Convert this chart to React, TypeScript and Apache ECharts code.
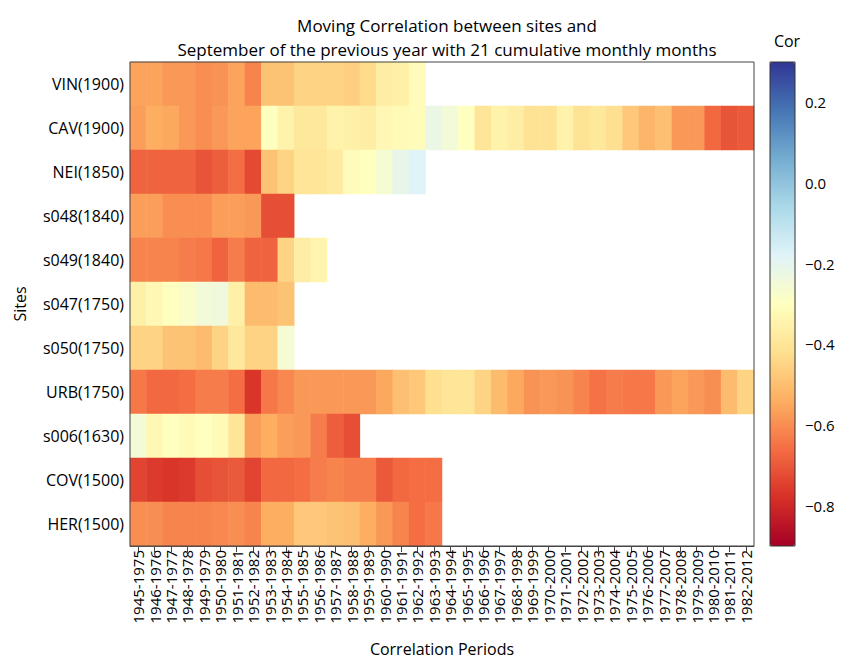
import React, { useEffect, useRef } from "react";
import * as echarts from "echarts";

const periods = [
  "1945-1975", "1946-1976", "1947-1977", "1948-1978", "1949-1979", "1950-1980",
  "1951-1981", "1952-1982", "1953-1983", "1954-1984", "1955-1985", "1956-1986",
  "1957-1987", "1958-1988", "1959-1989", "1960-1990", "1961-1991", "1962-1992",
  "1963-1993", "1964-1994", "1965-1995", "1966-1996", "1967-1997", "1968-1998",
  "1969-1999", "1970-2000", "1971-2001", "1972-2002", "1973-2003", "1974-2004",
  "1975-2005", "1976-2006", "1977-2007", "1978-2008", "1979-2009", "1980-2010",
  "1981-2011", "1982-2012",
];

const sites = [
  "VIN(1900)", "CAV(1900)", "NEI(1850)", "s048(1840)", "s049(1840)", "s047(1750)",
  "s050(1750)", "URB(1750)", "s006(1630)", "COV(1500)", "HER(1500)",
];

const VIN = [-0.56, -0.56, -0.58, -0.58, -0.6, -0.59, -0.56, -0.62, -0.49, -0.49, -0.45, -0.45, -0.45, -0.46, -0.43, -0.37, -0.36, -0.31];
const CAV = [-0.57, -0.54, -0.55, -0.58, -0.6, -0.58, -0.56, -0.56, -0.3, -0.35, -0.39, -0.39, -0.35, -0.36, -0.37, -0.33, -0.32, -0.31,
  -0.22, -0.25, -0.3, -0.4, -0.35, -0.37, -0.41, -0.41, -0.35, -0.41, -0.39, -0.42, -0.48, -0.52, -0.5, -0.58, -0.58, -0.67, -0.71, -0.7];
const NEI = [-0.68, -0.68, -0.68, -0.68, -0.71, -0.69, -0.66, -0.73, -0.49, -0.45, -0.4, -0.4, -0.38, -0.31, -0.3, -0.26, -0.21, -0.18];
const S048 = [-0.57, -0.57, -0.6, -0.6, -0.6, -0.57, -0.57, -0.58, -0.72, -0.72];
const S049 = [-0.62, -0.62, -0.62, -0.63, -0.64, -0.68, -0.63, -0.68, -0.68, -0.45, -0.37, -0.34];
const S047 = [-0.36, -0.33, -0.3, -0.28, -0.25, -0.24, -0.36, -0.51, -0.51, -0.49];
const S050 = [-0.45, -0.45, -0.49, -0.49, -0.51, -0.45, -0.39, -0.45, -0.45, -0.26];
const URB = [-0.64, -0.67, -0.67, -0.66, -0.63, -0.63, -0.66, -0.77, -0.64, -0.61, -0.58, -0.58, -0.58, -0.58, -0.58, -0.55, -0.5, -0.48,
  -0.42, -0.4, -0.4, -0.45, -0.51, -0.55, -0.59, -0.58, -0.59, -0.62, -0.65, -0.63, -0.64, -0.64, -0.58, -0.56, -0.58, -0.6, -0.51, -0.45];
const S006 = [-0.25, -0.33, -0.3, -0.32, -0.3, -0.32, -0.4, -0.57, -0.54, -0.57, -0.58, -0.63, -0.69, -0.72];
const COV = [-0.74, -0.76, -0.77, -0.76, -0.72, -0.71, -0.7, -0.74, -0.67, -0.67, -0.66, -0.63, -0.62, -0.63, -0.63, -0.7, -0.67, -0.66, -0.66];
const HER = [-0.6, -0.6, -0.62, -0.62, -0.62, -0.61, -0.6, -0.62, -0.54, -0.54, -0.48, -0.48, -0.49, -0.5, -0.54, -0.58, -0.62, -0.66, -0.64];

const rows = [VIN, CAV, NEI, S048, S049, S047, S050, URB, S006, COV, HER];

const colorTicks = [-0.8, -0.6, -0.4, -0.2, 0, 0.2];

const palette = ["#a50026", "#d73027", "#f46d43", "#fdae61", "#fee090", "#ffffbf", "#e0f3f8", "#abd9e9", "#74add1", "#4575b4", "#313695"];

const FONT = "Open Sans";

export default function App() {
  const ref = useRef<HTMLDivElement>(null);
  useEffect(() => {
    if (!ref.current) return;
    const chart = echarts.init(ref.current, undefined, { renderer: "svg" });
    const data: [number, number, number][] = [];
    rows.forEach((r, yi) => r.forEach((v, xi) => data.push([xi, yi, v])));
    chart.setOption({
      animation: false,
      backgroundColor: "#fff",
      textStyle: { fontFamily: FONT, color: "#000" },
      title: [
        {
          text: "Moving Correlation between sites and\nSeptember of the previous year with 21 cumulative monthly months",
          left: 442,
          textAlign: "center",
          top: 8,
          textStyle: { fontFamily: FONT, fontSize: 17, fontWeight: "normal", color: "#000", lineHeight: 24 },
        },
        {
          text: "Cor",
          left: 782,
          textAlign: "center",
          top: 28,
          textStyle: { fontFamily: FONT, fontSize: 16, fontWeight: "normal", color: "#000" },
        },
      ],
      grid: [
        { left: 130, top: 62, width: 624, height: 484, show: true, borderColor: "#444", borderWidth: 1, backgroundColor: "transparent", z: 10, outerBoundsMode: "none", containLabel: false },
        { left: 770, top: 62, width: 25, height: 484, show: true, borderColor: "#333", borderWidth: 1, backgroundColor: "transparent", z: 10, outerBoundsMode: "none", containLabel: false },
      ],
      xAxis: [
        {
          type: "category",
          gridIndex: 0,
          data: periods,
          name: "Correlation Periods",
          nameLocation: "middle",
          nameGap: 95,
          nameTextStyle: { fontFamily: FONT, fontSize: 16, color: "#000" },
          axisLine: { show: true, lineStyle: { color: "#444" } },
          axisTick: { show: true, alignWithLabel: true, length: 6, lineStyle: { color: "#444" } },
          axisLabel: { rotate: 90, interval: 0, fontSize: 15, margin: 4, color: "#000", fontFamily: FONT },
          splitLine: { show: false },
        },
        { type: "value", gridIndex: 1, show: false, min: 0, max: 1 },
      ],
      yAxis: [
        {
          type: "category",
          gridIndex: 0,
          data: sites,
          inverse: true,
          name: "Sites",
          nameLocation: "middle",
          nameGap: 102,
          nameRotate: 90,
          nameTextStyle: { fontFamily: FONT, fontSize: 16, color: "#000" },
          axisLine: { show: false },
          axisTick: { show: false },
          axisLabel: { fontSize: 16, margin: 6, color: "#000", fontFamily: FONT },
          splitLine: { show: false },
        },
        {
          type: "value",
          gridIndex: 1,
          min: -0.9,
          max: 0.3,
          position: "right",
          axisLine: { show: false },
          axisTick: { show: true, customValues: colorTicks, length: 6, lineStyle: { color: "#444" } },
          axisLabel: {
            customValues: colorTicks,
            fontSize: 15,
            margin: 10,
            color: "#000",
            fontFamily: FONT,
            formatter: (v: number) => (v < -1e-9 ? "\u2212" : "") + Math.abs(v).toFixed(1),
          },
          splitLine: { show: false },
        },
      ],
      visualMap: {
        type: "continuous",
        min: -0.9,
        max: 0.3,
        seriesIndex: 0,
        calculable: false,
        hoverLink: false,
        orient: "vertical",
        left: 770,
        top: 62,
        padding: 0,
        itemWidth: 25,
        itemHeight: 484,
        text: ["", ""],
        showLabel: false,
        z: 2,
        inRange: { color: palette },
      },
      series: [
        {
          type: "heatmap",
          xAxisIndex: 0,
          yAxisIndex: 0,
          data,
          itemStyle: { borderWidth: 0 },
          emphasis: { disabled: true },
        },
      ],
    });
    return () => chart.dispose();
  }, []);
  return <div ref={ref} style={{ position: "absolute", left: 0, top: 0, width: 848, height: 659 }} />;
}
